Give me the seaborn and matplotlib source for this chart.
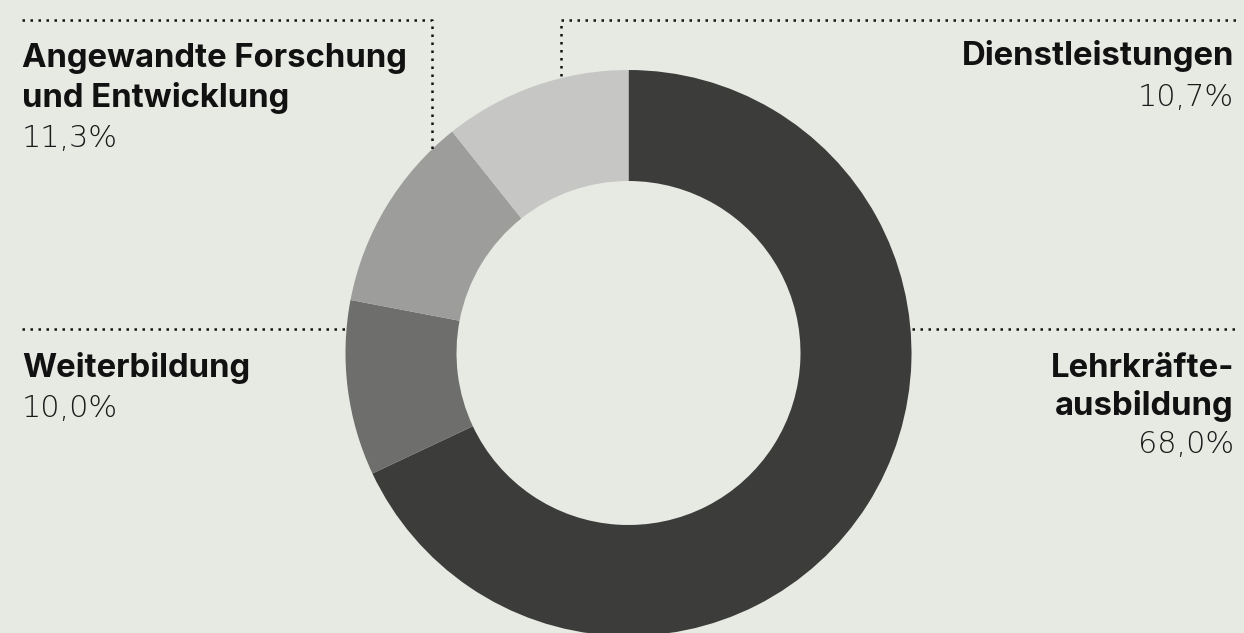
#! /usr/bin/env python3
import numpy as np
import matplotlib
matplotlib.use("Agg")
import matplotlib.pyplot as plt
import seaborn as sns

# data, clockwise from 12 o'clock
labels = ["Lehrkräfte-\nausbildung", "Weiterbildung",
          "Angewandte Forschung\nund Entwicklung", "Dienstleistungen"]
values = [68.0, 10.0, 11.3, 10.7]
colors = ["#3c3c3a", "#6e6e6c", "#9d9d9b", "#c6c6c4"]

BG = "#e7e9e3"

sns.set_theme(style="white", rc={"figure.facecolor": BG, "axes.facecolor": BG})
plt.rcParams["font.family"] = ["Inter", "DejaVu Sans"]

W, H = 1244, 633
fig = plt.figure(figsize=(W / 100, H / 100), dpi=100)
ax = fig.add_axes([0, 0, 1, 1])

# axes in pixel units, y measured downward from the top
cx, cy, r_out, r_in = 628.5, 353, 283, 172
ax.pie(values, startangle=90, counterclock=False, colors=colors,
       radius=r_out, center=(cx, H - cy),
       wedgeprops=dict(width=r_out - r_in, linewidth=0))
ax.set_xlim(0, W)
ax.set_ylim(0, H)
ax.set_aspect("auto")
ax.axis("off")


def Y(y):
    return H - y


dot = dict(color="#111111", linestyle=(0, (1, 2.2)), linewidth=1.8)

# leader lines
ax.plot([22, 432, 432], [Y(20), Y(20), Y(150)], **dot)
ax.plot([561, 561, 1238], [Y(76), Y(20), Y(20)], **dot)
ax.plot([22, 345], [Y(329), Y(329)], **dot)
ax.plot([912, 1236], [Y(329), Y(329)], **dot)


def pct(v):
    return f"{v:.1f}".replace(".", ",") + "%"


head = dict(fontsize=23.7, fontweight="bold", color="#111111", va="baseline")
num = dict(fontsize=21.8, fontweight=200, color="#1a1a1a", va="baseline",
           family=["DejaVu Sans"])

# (label index, x, ha, first baseline, line step)
placements = [
    (2, 22, "left", 67, 40),
    (3, 1234, "right", 65, 41),
    (1, 22, "left", 377, 40),
    (0, 1234, "right", 377, 38),
]
for i, x, ha, y0, step in placements:
    lines = labels[i].split("\n")
    for k, line in enumerate(lines):
        ax.text(x, Y(y0 + k * step), line, ha=ha, **head)
    ax.text(x, Y(y0 + len(lines) * step), pct(values[i]), ha=ha, **num)

fig.savefig("out.png", dpi=100, facecolor=BG)
